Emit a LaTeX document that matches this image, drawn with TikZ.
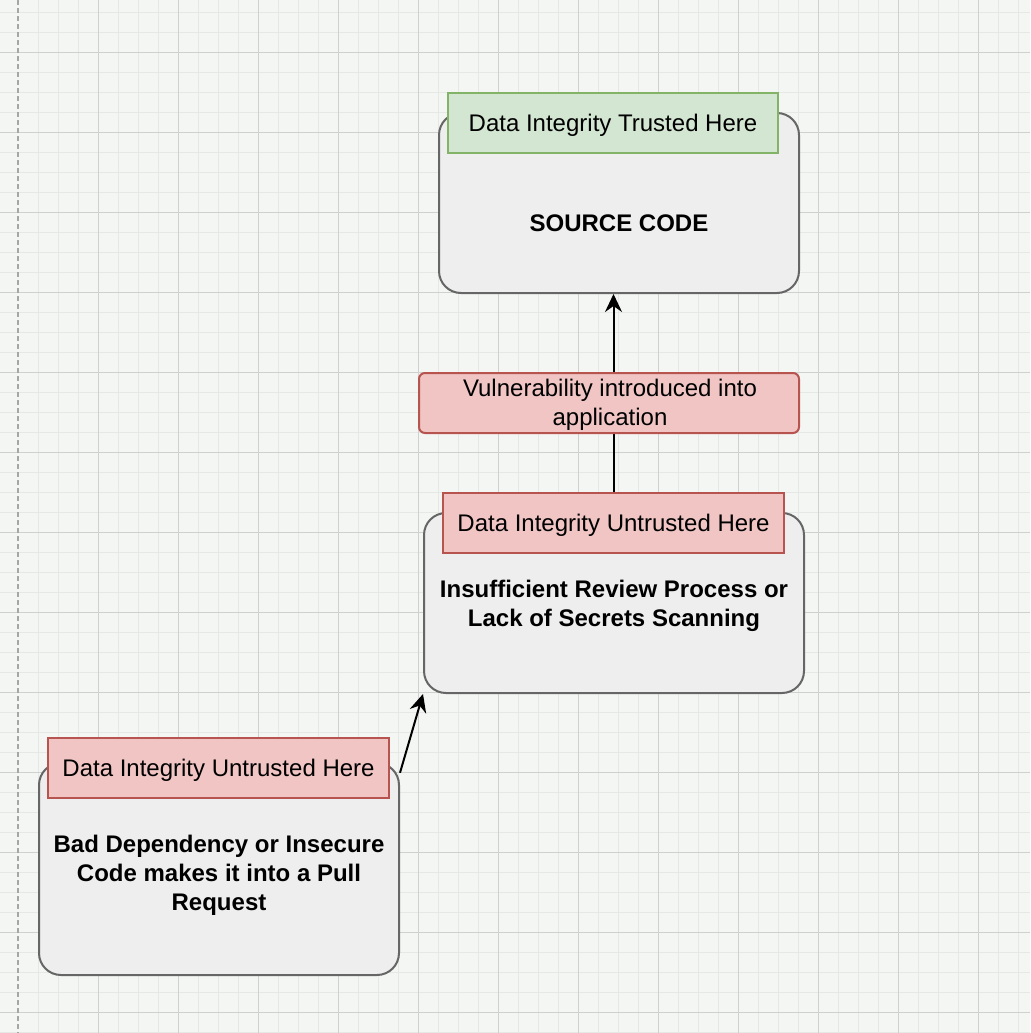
\documentclass[tikz,border=0pt]{standalone}
\usepackage{fontspec}
\setmainfont{Liberation Sans}
\usepackage{tikz}
\usetikzlibrary{arrows.meta}

\definecolor{canvas}{HTML}{F4F6F4}
\definecolor{minorline}{HTML}{E6E8E6}
\definecolor{majorline}{HTML}{CFD1CF}
\definecolor{boxfill}{HTML}{EEEEEE}
\definecolor{boxline}{HTML}{666666}
\definecolor{redfill}{HTML}{F0C5C4}
\definecolor{redline}{HTML}{B85450}
\definecolor{greenfill}{HTML}{D3E6D1}
\definecolor{greenline}{HTML}{82B366}

\tikzset{
  stage/.style={draw=boxline, fill=boxfill, line width=1pt, rounded corners=11pt,
    minimum width=180pt, minimum height=90pt, inner sep=0pt},
  tag/.style={draw=redline, fill=redfill, line width=1pt, text height=10.5pt, text depth=2.5pt,
    minimum width=170.5pt, minimum height=30pt, inner sep=0pt},
  goodtag/.style={tag, draw=greenline, fill=greenfill, minimum width=165pt},
  bold/.style={font=\fontsize{12}{14.5}\selectfont\bfseries, align=center},
  flow/.style={-{Stealth[length=9pt, width=8.5pt, inset=3pt]}, line width=1pt}
}

\begin{document}
\begin{tikzpicture}[x=0.5pt, y=-0.5pt, font=\fontsize{12}{14.5}\selectfont]
\useasboundingbox (0,0) rectangle (1030,1033);

% grid background
\fill[canvas] (0,0) rectangle (1030,1033);
\foreach \x in {38,58,...,1030} \draw[minorline, line width=0.5pt] (\x,0) -- (\x,1033);
\foreach \y in {12,32,...,1033} \draw[minorline, line width=0.5pt] (0,\y) -- (1030,\y);
\foreach \x in {98,178,...,1030} \draw[majorline, line width=0.5pt] (\x,0) -- (\x,1033);
\foreach \y in {52,132,...,1033} \draw[majorline, line width=0.5pt] (0,\y) -- (1030,\y);
\draw[majorline!80!black, line width=0.6pt, dash pattern=on 2.5pt off 1.5pt] (18,0) -- (18,1033);

% boxes
\node[stage] (src) at (619,203) {};
\node[stage, minimum width=190pt] (mid) at (614,603) {};
\node[stage, minimum height=106pt] (bad) at (219,869) {};

\node[bold] (srctxt) at (619,223) {SOURCE CODE};
\node[bold] (midtxt) at (614,605.5) {Insufficient Review Process or\\Lack of Secrets Scanning};
\node[bold] (badtxt) at (219,875) {Bad Dependency or Insecure\\Code makes it into a Pull\\Request};

% tags
\node[goodtag] (srclbl) at (613,123) {Data Integrity Trusted Here};
\node[tag] (midlbl) at (613.5,523) {Data Integrity Untrusted Here};
\node[tag] (badlbl) at (218.5,768) {Data Integrity Untrusted Here};

% arrows
\draw[flow] (bad.28) to (mid.south west);
\draw[flow] (midlbl.north) to (midlbl.north |- src.south);

\node[tag, rounded corners=3pt, minimum width=190pt] (vuln) at (609,403) {};
\node[align=center] (vulntxt) at (610,405) {Vulnerability introduced into\\application};
\end{tikzpicture}
\end{document}
